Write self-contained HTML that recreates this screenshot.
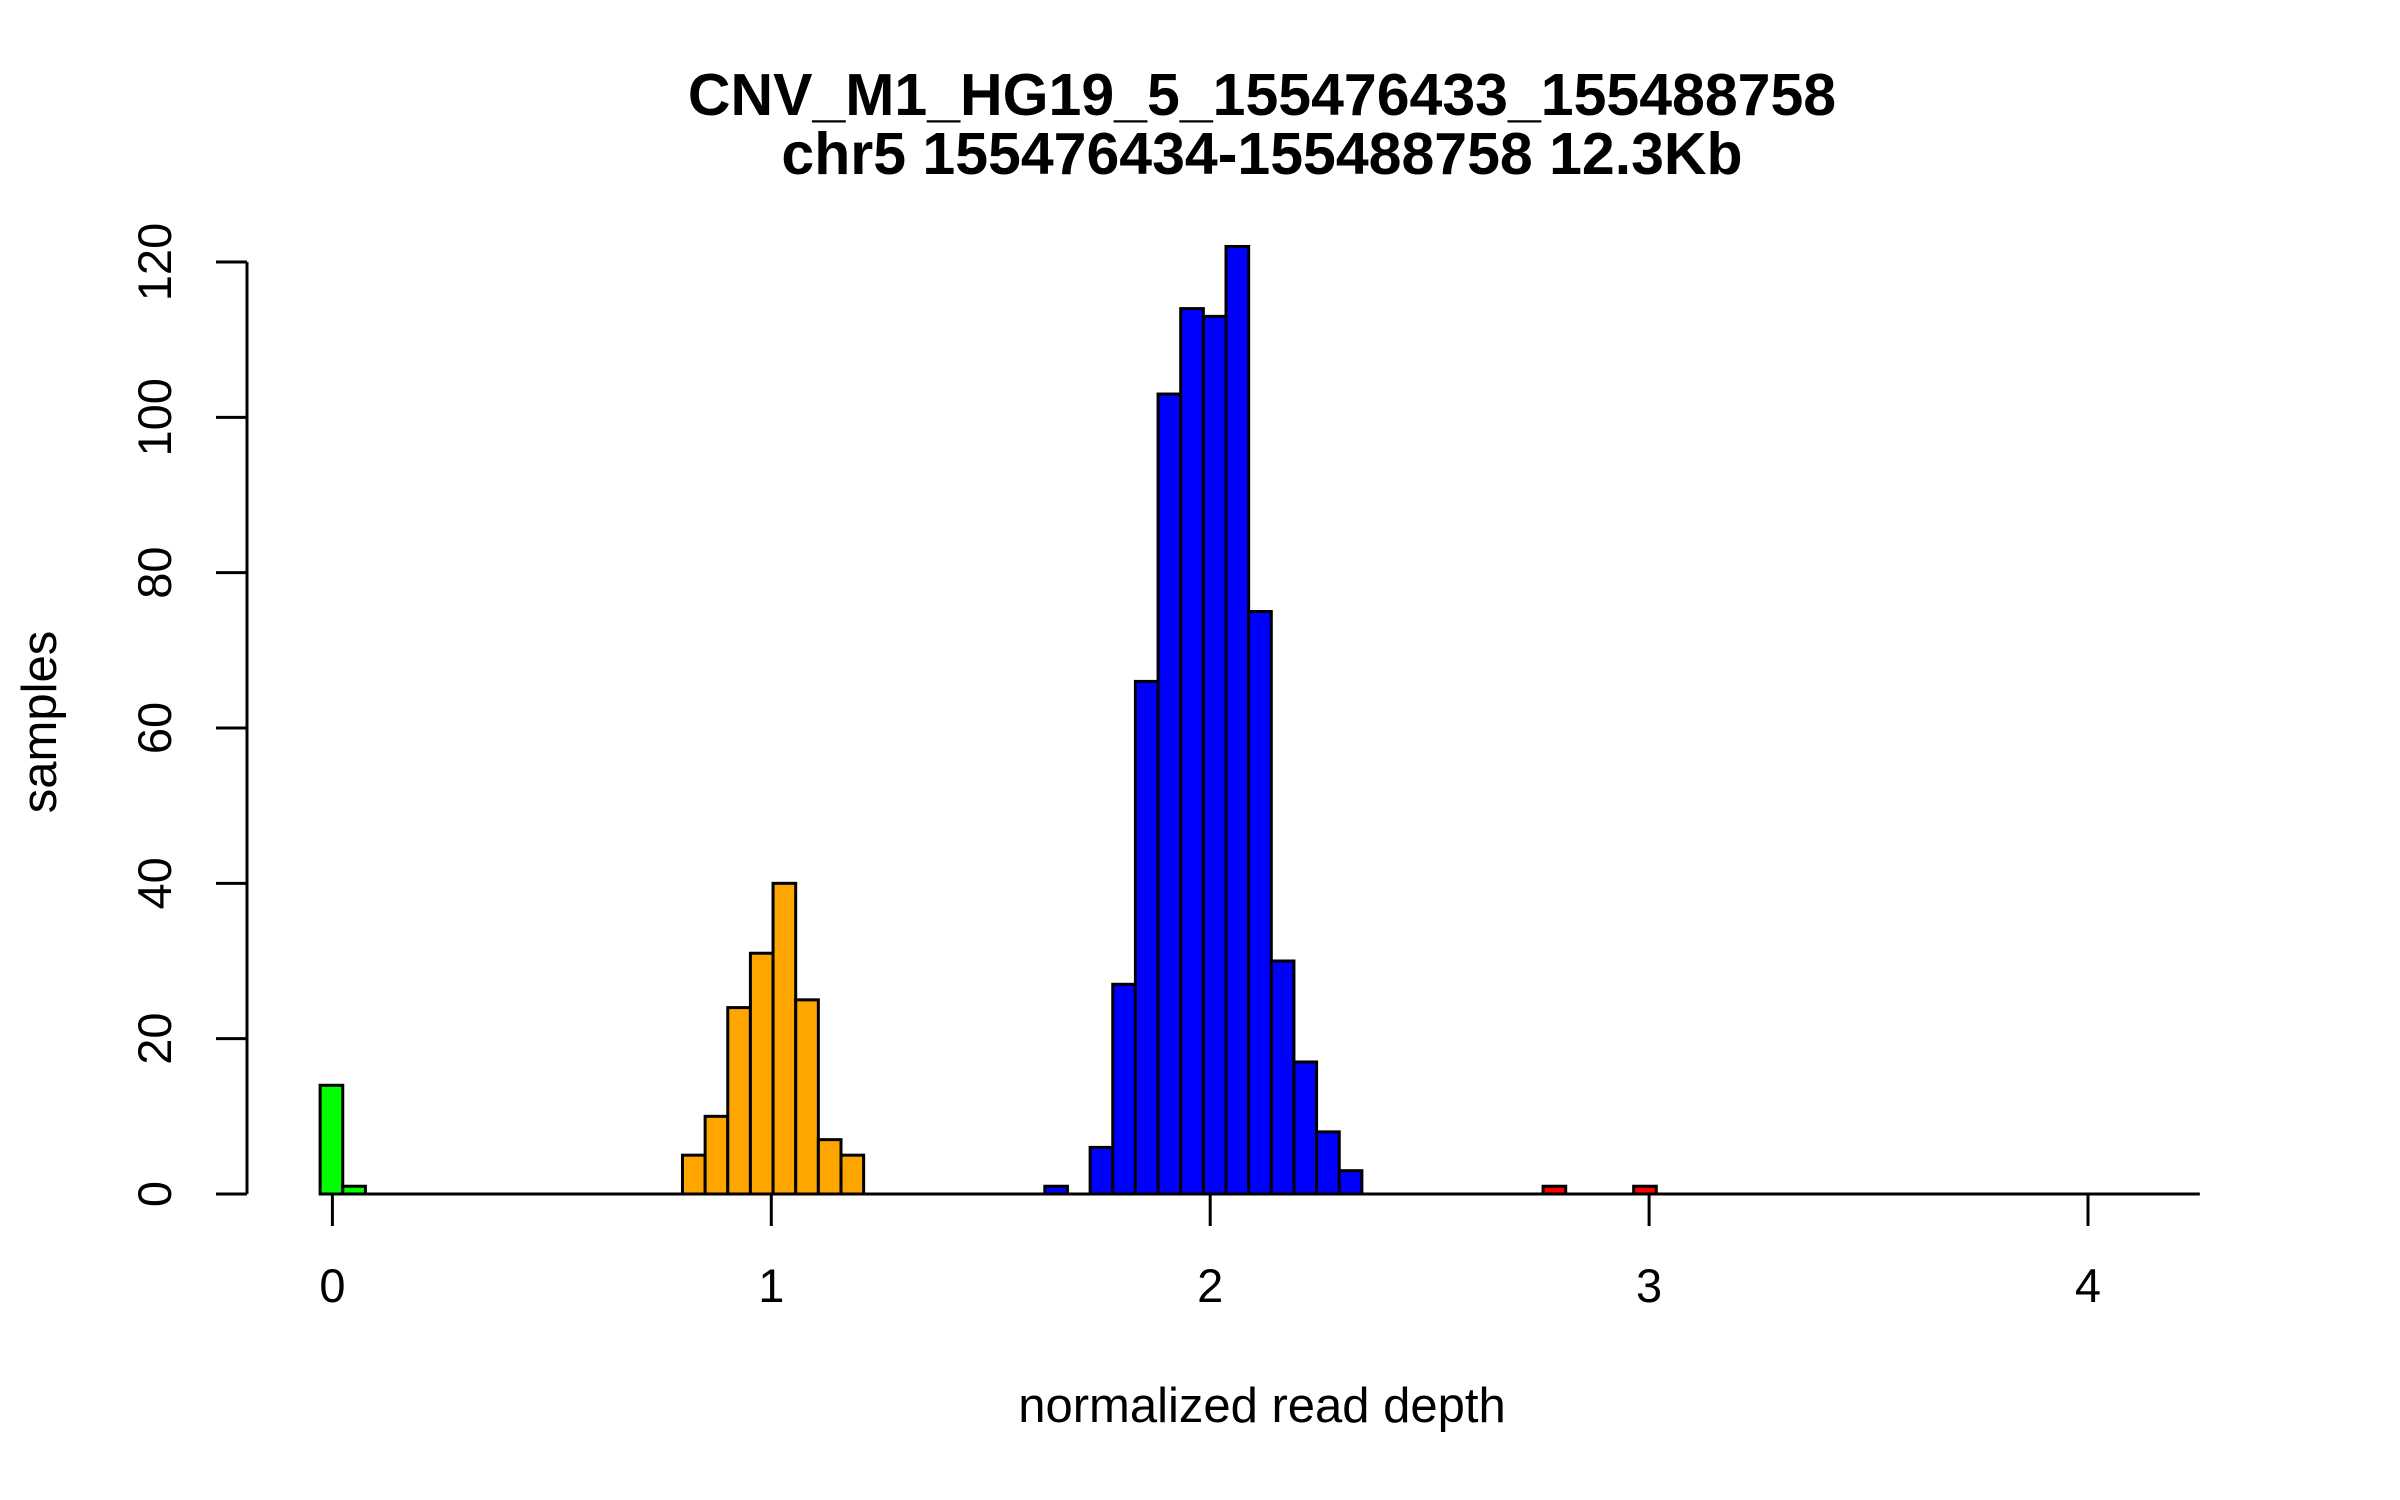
<!DOCTYPE html>
<html><head><meta charset="utf-8"><style>
html,body{margin:0;padding:0;background:#fff;}
svg{display:block;font-family:"Liberation Sans",sans-serif;}
</style></head><body>
<svg id="chart" width="2400" height="1500" viewBox="0 0 2400 1500">
<text x="1262" y="115" text-anchor="middle" font-weight="bold" font-size="59">CNV_M1_HG19_5_155476433_155488758</text>
<text x="1262" y="174" text-anchor="middle" font-weight="bold" font-size="59">chr5 155476434-155488758 12.3Kb</text>
<text x="1262" y="1422" text-anchor="middle" font-size="49">normalized read depth</text>
<text transform="translate(56,722) rotate(-90)" text-anchor="middle" font-size="49">samples</text>
<g id="bars"></g>
<g id="axes"></g>
</svg>
<script>
const binStart = -0.028;
const binWidth = 0.0516;
const counts = [14,1,0,0,0,0,0,0,0,0,0,0,0,0,0,0,5,10,24,31,40,25,7,5,0,0,0,0,0,0,0,0,1,0,6,27,66,103,114,113,122,75,30,17,8,3,0,0,0,0,0,0,0,0,1,0,0,0,1,0,0,0,0,0,0,0,0,0,0,0,0,0,0,0,0,0,0,0,0,0,0,0,0];
const binColors = {0:'#00ff00',1:'#00ff00',16:'#ffa500',17:'#ffa500',18:'#ffa500',19:'#ffa500',20:'#ffa500',21:'#ffa500',22:'#ffa500',23:'#ffa500',32:'#0000ff',34:'#0000ff',35:'#0000ff',36:'#0000ff',37:'#0000ff',38:'#0000ff',39:'#0000ff',40:'#0000ff',41:'#0000ff',42:'#0000ff',43:'#0000ff',44:'#0000ff',45:'#0000ff',54:'#ff0000',58:'#ff0000'};
const xTicks = [0,1,2,3,4];
const yTicks = [0,20,40,60,80,100,120];

const NS = 'http://www.w3.org/2000/svg';
function sx(v){ return 332.4 + v*438.9; }
function sy(v){ return 1194 - v*(932/120); }
const barsG = document.getElementById('bars');
const axesG = document.getElementById('axes');
function mk(tag, attrs, parent){ const e=document.createElementNS(NS,tag); for(const k in attrs) e.setAttribute(k,attrs[k]); parent.appendChild(e); return e; }

const base=mk('line',{x1:sx(binStart),x2:sx(binStart+counts.length*binWidth),y1:sy(0),y2:sy(0),stroke:'#000','stroke-width':3},barsG);


counts.forEach((c,i)=>{
  if(c<=0) return;
  const x0=sx(binStart+i*binWidth), x1=sx(binStart+(i+1)*binWidth);
  const r=mk('rect',{x:x0,y:sy(c),width:x1-x0,height:sy(0)-sy(c),fill:binColors[i]||'none',stroke:'#000','stroke-width':3},barsG);
  
  
});

const yl=mk('line',{x1:247,x2:247,y1:sy(0),y2:sy(120),stroke:'#000','stroke-width':3},axesG);


yTicks.forEach(v=>{
  const t=mk('line',{x1:216,x2:247,y1:sy(v),y2:sy(v),stroke:'#000','stroke-width':3},axesG);
  
  
  const tx=mk('text',{transform:`translate(171,${sy(v)}) rotate(-90)`,'text-anchor':'middle','font-size':47},axesG);
  tx.textContent=String(v);
  
  
});
xTicks.forEach(v=>{
  const t=mk('line',{x1:sx(v),x2:sx(v),y1:sy(0),y2:sy(0)+32,stroke:'#000','stroke-width':3},axesG);
  
  
  const tx=mk('text',{x:sx(v),y:1302,'text-anchor':'middle','font-size':47},axesG);
  tx.textContent=String(v);
  
  
});
</script>
</body></html>
